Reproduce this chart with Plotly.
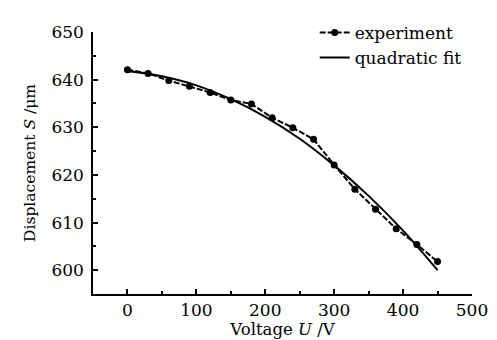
import plotly.graph_objects as go

voltage = [0, 30, 60, 90, 120, 150, 180, 210, 240, 270, 300, 330, 360, 390, 420, 450]
displacement = [642.1, 641.3, 639.8, 638.6, 637.3, 635.7, 634.9, 632.0, 629.9, 627.5,
                622.1, 617.0, 612.8, 608.7, 605.4, 601.8]

fit_voltage = [0, 50, 100, 150, 200, 250, 300, 350, 400, 450]
fit_displacement = [641.8, 640.7, 638.8, 635.9, 632.2, 627.6, 622.0, 615.6, 608.3, 600.0]

FONT = "DejaVu Serif"

fig = go.Figure()
fig.add_trace(go.Scatter(
    x=voltage, y=displacement, mode="lines+markers", name="experiment",
    line=dict(color="black", width=2, dash="6px,2px"),
    marker=dict(color="black", size=7),
))
fig.add_trace(go.Scatter(
    x=fit_voltage, y=fit_displacement, mode="lines", name="quadratic fit",
    line=dict(color="black", width=2, shape="spline"),
))

# page body adds an 8px margin, so the figure is sized 8px smaller
fig.update_layout(
    width=489, height=332,
    margin=dict(l=85, r=25, t=7, b=46),
    paper_bgcolor="white", plot_bgcolor="white",
    font=dict(family=FONT, size=17, color="black"),
    showlegend=True,
    legend=dict(x=0.585, y=1.065, xanchor="left", yanchor="top",
                bgcolor="rgba(0,0,0,0)", font=dict(size=17),
                tracegroupgap=0, itemwidth=30),
    xaxis=dict(
        range=[-50, 500], dtick=100, tick0=0, automargin=False,
        showline=True, linecolor="black", linewidth=1.5,
        ticks="inside", ticklen=5, tickwidth=1.5, tickcolor="black",
        minor=dict(ticks="inside", ticklen=3, dtick=50, tickcolor="black", tickwidth=1.5),
        showgrid=False, zeroline=False, mirror=False,
        title=dict(text="Voltage <i>U</i> /V", standoff=2, font=dict(size=16.5)),
    ),
    yaxis=dict(
        range=[595, 650], dtick=10, tick0=600, automargin=False,
        showline=True, linecolor="black", linewidth=1.5,
        ticks="inside", ticklen=5, tickwidth=1.5, tickcolor="black",
        ticklabelstandoff=4,
        minor=dict(ticks="inside", ticklen=3, dtick=5, tickcolor="black", tickwidth=1.5),
        showgrid=False, zeroline=False, mirror=False,
        title=dict(text="Displacement <i>S</i> /μm", standoff=12, font=dict(size=15.5)),
    ),
)

fig.write_html("out.html")
